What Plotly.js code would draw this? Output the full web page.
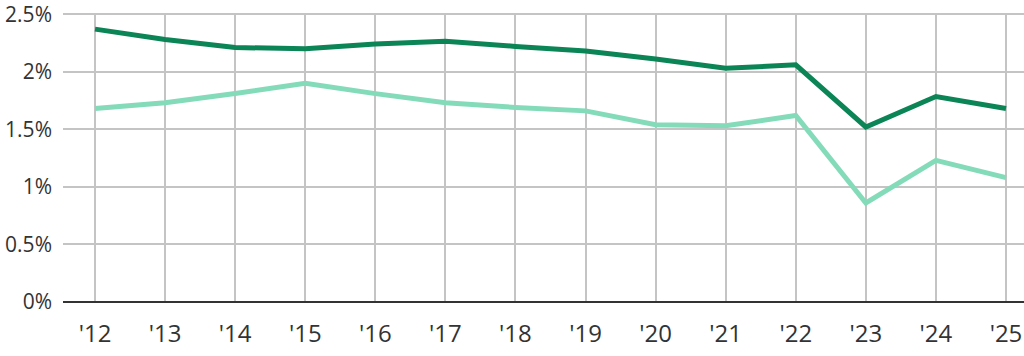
<!DOCTYPE html>
<html>
<head>
<meta charset="utf-8">
<script src="https://cdn.plot.ly/plotly-3.0.1.min.js"></script>
<style>html,body{margin:0;padding:0;background:#fff;}#chart{width:1024px;height:356px;}</style>
</head>
<body>
<div id="chart"></div>
<script>
const years = [2012,2013,2014,2015,2016,2017,2018,2019,2020,2021,2022,2023,2024,2025];
const tickLabels = ["'12","'13","'14","'15","'16","'17","'18","'19","'20","'21","'22","'23","'24","'25"];
const seriesDark = [2.37,2.28,2.21,2.20,2.24,2.265,2.22,2.18,2.11,2.03,2.06,1.52,1.785,1.68];
const seriesLight = [1.68,1.73,1.81,1.90,1.81,1.73,1.69,1.66,1.54,1.53,1.62,0.86,1.23,1.08];
const yTicks = [0,0.5,1,1.5,2,2.5];
const yTickLabels = ["0%","0.5%","1%","1.5%","2%","2.5%"];

const traces = [
  {x: years, y: seriesLight, type: 'scatter', mode: 'lines', line: {color: '#84dbb9', width: 5}, hoverinfo: 'skip'},
  {x: years, y: seriesDark, type: 'scatter', mode: 'lines', line: {color: '#0b8456', width: 5}, hoverinfo: 'skip'}
];
const layout = {
  width: 1024, height: 356,
  margin: {l: 63, r: 0, t: 13, b: 54},
  paper_bgcolor: '#fff', plot_bgcolor: '#fff',
  showlegend: false,
  font: {family: '"Open Sans", "Noto Sans", sans-serif', size: 21, color: '#333'},
  xaxis: {
    range: [2011.543, 2025.257],
    tickmode: 'array', tickvals: years, ticktext: tickLabels,
    tickfont: {size: 24, color: '#333'},
    showgrid: true, gridcolor: '#c4c4c4', gridwidth: 2,
    zeroline: false, showline: false, ticks: '', ticklabelstandoff: 15,
    ticklabeloverflow: 'allow',
    fixedrange: true
  },
  yaxis: {
    range: [0, 2.51],
    tickmode: 'array', tickvals: yTicks, ticktext: yTickLabels,
    tickfont: {size: 21, color: '#333'},
    showgrid: true, gridcolor: '#c4c4c4', gridwidth: 2,
    zeroline: true, zerolinecolor: '#333', zerolinewidth: 2,
    showline: false, ticks: '', ticklabelstandoff: 10,
    ticklabeloverflow: 'allow',
    fixedrange: true
  }
};
Plotly.newPlot('chart', traces, layout, {displayModeBar: false, staticPlot: true});
</script>
</body>
</html>
